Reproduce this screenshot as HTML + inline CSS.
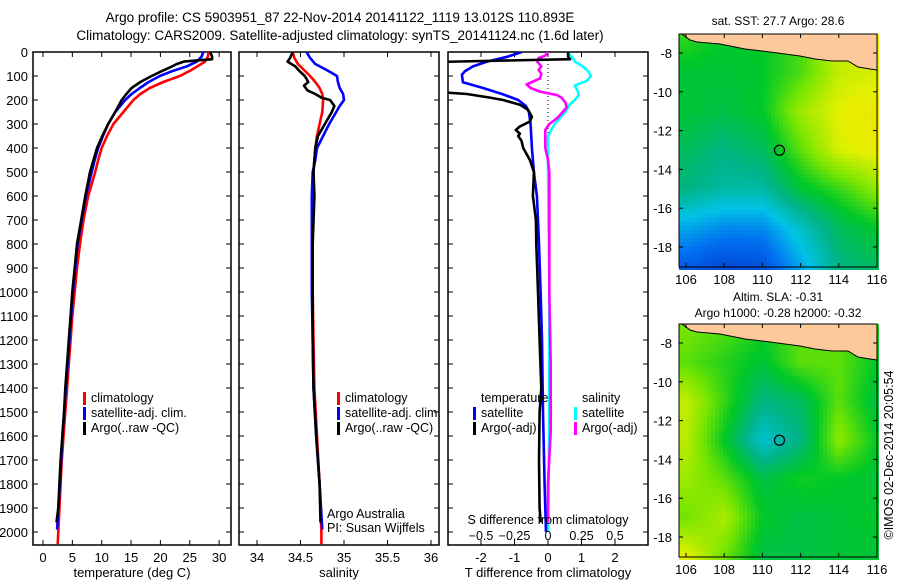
<!DOCTYPE html>
<html><head><meta charset="utf-8"><style>
body{margin:0;background:#fff}
svg{display:block;font-family:"Liberation Sans",sans-serif}
text{fill:#000}
</style></head><body>
<svg id="c" width="900" height="580"></svg>
<script>
// ---------- data ----------
const depthClimT=[0,20,40,60,80,100,125,150,175,200,250,300,350,400,450,500,600,700,800,900,1000,1100,1200,1300,1400,1500,1600,1700,1800,1900,2000,2050];
const climT=[28.2,28.1,27.6,26.3,24.9,23.3,20.5,18.2,16.6,15.4,13.7,12.0,10.9,10.0,9.4,8.9,7.7,6.9,6.3,5.8,5.4,5.0,4.7,4.4,4.1,3.8,3.5,3.2,3.0,2.8,2.6,2.5];
const depthSatT=[0,20,40,60,80,100,125,150,175,200,250,300,350,400,450,500,600,700,800,900,1000,1100,1200,1300,1400,1500,1600,1700,1800,1900,1990];
const satT=[27.3,27.0,26.2,24.5,22.0,19.9,18.0,16.5,15.1,14.0,12.3,11.1,10.2,9.4,8.8,8.3,7.3,6.6,5.9,5.5,5.1,4.8,4.5,4.2,3.9,3.6,3.3,3.1,2.9,2.6,2.4];
const depthArgoT=[0,20,30,40,50,60,80,100,125,150,175,200,250,300,350,400,450,500,600,700,800,900,1000,1100,1200,1300,1400,1500,1600,1700,1800,1900,1960];
const argoT=[28.5,28.8,28.8,24.0,22.8,22.0,20.2,18.5,16.6,15.1,14.2,13.4,12.3,11.1,10.1,9.2,8.6,8.0,7.2,6.5,5.8,5.4,5.0,4.7,4.4,4.1,3.8,3.6,3.3,3.0,2.8,2.6,2.3];

const depthClimS=[0,25,50,75,100,125,150,175,200,250,300,350,400,500,600,800,1000,1200,1400,1600,1800,2000,2050];
const climS=[34.41,34.43,34.47,34.54,34.61,34.67,34.72,34.75,34.76,34.75,34.72,34.69,34.67,34.65,34.64,34.64,34.64,34.65,34.66,34.69,34.72,34.74,34.74];
const depthSatS=[0,25,50,75,100,125,150,175,200,225,250,300,350,400,450,500,600,800,1000,1200,1400,1600,1800,1990];
const satS=[34.57,34.61,34.67,34.80,34.92,34.93,34.95,34.99,35.00,34.95,34.91,34.83,34.76,34.69,34.67,34.64,34.63,34.63,34.63,34.64,34.65,34.68,34.72,34.75];
const depthArgoS=[0,25,40,60,80,100,125,140,160,175,190,200,225,250,300,350,400,500,600,800,1000,1200,1400,1600,1800,1960];
const argoS=[34.41,34.38,34.35,34.44,34.49,34.55,34.59,34.54,34.58,34.67,34.74,34.84,34.89,34.86,34.78,34.70,34.67,34.65,34.66,34.64,34.64,34.64,34.65,34.68,34.72,34.73];

const depthDT=[0,20,40,60,80,95,126,150,175,200,225,250,300,400,500,600,700,800,1000,1200,1500,1800,2000];
const satDT=[-0.78,-1.22,-1.82,-2.24,-2.48,-2.57,-2.54,-1.94,-1.37,-0.89,-0.66,-0.57,-0.52,-0.48,-0.42,-0.33,-0.30,-0.27,-0.22,-0.18,-0.15,-0.10,-0.06];
const depthArgoDT=[0,20,30,42,100,169,175,190,200,220,240,270,290,310,325,340,350,370,400,450,500,600,700,800,1000,1200,1400,1500,1700,1900,1960];
const argoDT=[0.6,0.6,0.66,-3.5,-3.5,-3.0,-2.42,-1.73,-1.34,-0.84,-0.6,-0.48,-0.54,-0.84,-0.96,-0.84,-0.89,-0.79,-0.74,-0.54,-0.42,-0.45,-0.36,-0.35,-0.3,-0.25,-0.2,-0.25,-0.27,-0.25,-0.22];
const depthSatDS=[0,20,40,60,80,100,120,140,160,180,200,220,250,275,300,320,350,400,500,1000,1500,2000];
const satDS=[0.14,0.18,0.20,0.26,0.30,0.32,0.29,0.20,0.22,0.23,0.20,0.16,0.13,0.09,0.05,0.03,0.0,0.0,0.0,0.01,0.01,0.0];
const depthArgoDS=[0,15,25,40,60,75,90,110,125,135,150,165,180,190,210,230,250,275,300,325,350,400,450,500,600,800,1000,1300,1580,1800,1960];
const argoDS=[0.0,-0.02,-0.07,-0.08,-0.05,-0.07,-0.05,-0.06,-0.12,-0.16,-0.13,-0.06,0.07,0.10,0.13,0.14,0.11,0.07,0.01,-0.02,-0.02,-0.02,0.0,0.01,0.01,0.01,0.01,0.02,0.02,0.0,0.0];

const depthTicks=[0,100,200,300,400,500,600,700,800,900,1000,1100,1200,1300,1400,1500,1600,1700,1800,1900,2000];
const tempTicks=[0,5,10,15,20,25,30];
const salTicks=[34,34.5,35,35.5,36];
const dtTicks=[-2,-1,0,1,2];
const dsTicks=[-0.5,-0.25,0,0.25,0.5];
const lonTicks=[106,108,110,112,114,116];
const latTicks=[-8,-10,-12,-14,-16,-18];

// coarse map fields (rows lat -7..-19 step 2, cols lon 106..116 step 2)
const sstGrid=[[0.68,0.62,0.62,0.7,0.88,0.92],[0.6,0.6,0.62,0.7,0.85,0.88],[0.6,0.58,0.62,0.8,0.9,0.94],[0.55,0.5,0.55,0.72,0.88,0.92],[0.5,0.45,0.45,0.6,0.68,0.78],[0.3,0.25,0.25,0.4,0.55,0.62],[0.15,0.1,0.12,0.3,0.5,0.55]];
const slaGrid=[[0.75,0.72,0.65,0.72,0.72,0.65],[0.72,0.66,0.6,0.72,0.72,0.62],[0.85,0.68,0.5,0.55,0.72,0.58],[0.84,0.62,0.38,0.5,0.78,0.62],[0.8,0.72,0.58,0.64,0.62,0.6],[0.74,0.82,0.62,0.58,0.6,0.62],[0.9,0.74,0.58,0.58,0.6,0.6]];
const argoLon=110.893, argoLat=-13.012;

// ---------- helpers ----------
const NS="http://www.w3.org/2000/svg";
const svg=document.getElementById('c');
function el(tag,attrs,parent){const e=document.createElementNS(NS,tag);for(const k in attrs)e.setAttribute(k,attrs[k]);(parent||svg).appendChild(e);return e;}
function txt(x,y,s,anchor,size,parent){const t=el('text',{x:x,y:y,'text-anchor':anchor||'start','font-size':size||12},parent);t.textContent=s;return t;}
const TOP=52, BOT=545;
const yD=d=>52+0.24*d;

function panel(name,x0,x1,xs,ticks,fmt,title,clipId){
  const g=el('g',{});
  
  
  el('rect',{x:x0,y:TOP,width:x1-x0,height:BOT-TOP,fill:'none',stroke:'#000','stroke-width':1.5},g);
  const cp=el('clipPath',{id:clipId},g);
  el('rect',{x:x0,y:TOP,width:x1-x0,height:BOT-TOP},cp);
  depthTicks.forEach(d=>{
    el('line',{x1:x0,x2:x0+5,y1:yD(d),y2:yD(d),stroke:'#000'},g);
    el('line',{x1:x1,x2:x1-5,y1:yD(d),y2:yD(d),stroke:'#000'},g);
  });
  ticks.forEach(v=>{
    const x=xs(v);
    el('line',{x1:x,x2:x,y1:BOT,y2:BOT-5,stroke:'#000'},g);
    el('line',{x1:x,x2:x,y1:TOP,y2:TOP+5,stroke:'#000'},g);
    txt(x,562,fmt(v),'middle',13,g);
  });
  const t=txt((x0+x1)/2,577,title,'middle',13,g);
  
  
  return g;
}
function series(name,depths,vals,xs,color,clipId){
  const pts=depths.map((d,i)=>xs(vals[i]).toFixed(1)+','+yD(d).toFixed(1)).join(' ');
  const p=el('polyline',{points:pts,fill:'none',stroke:color,'stroke-width':2.6,'stroke-linejoin':'round','clip-path':'url(#'+clipId+')'});
  
  
}
function legend(x,y,items){
  items.forEach((it,i)=>{
    el('rect',{x:x,y:y+i*15-10,width:3,height:13,fill:it[1]});
    const t=txt(x+8,y+i*15,it[0],'start',12.5);
    
    
  });
}

// titles
let t1=txt(340,22,'Argo profile: CS 5903951_87 22-Nov-2014 20141122_1119 13.012S 110.893E','middle',13.5);


let t2=txt(340,40,'Climatology: CARS2009. Satellite-adjusted climatology: synTS_20141124.nc (1.6d later)','middle',13.5);



// depth labels
depthTicks.forEach(d=>{
  const t=txt(28,yD(d)+5,String(d),'end',13);
  
  
});

// panel 1 temperature
const xT=v=>43+5.87*v;
panel('temperature-panel',33,231,xT,tempTicks,String,'temperature (deg C)','clipT');
series('climatology-temperature',depthClimT,climT,xT,'#f00','clipT');
series('satellite-temperature',depthSatT,satT,xT,'#00f','clipT');
series('argo-temperature',depthArgoT,argoT,xT,'#000','clipT');
legend(83,402,[['climatology','#f00'],['satellite-adj. clim.','#00f'],['Argo(..raw -QC)','#000']]);

// panel 2 salinity
const xS=v=>257+87*(v-34);
panel('salinity-panel',239,439,xS,salTicks,String,'salinity','clipS');
series('climatology-salinity',depthClimS,climS,xS,'#f00','clipS');
series('satellite-salinity',depthSatS,satS,xS,'#00f','clipS');
series('argo-salinity',depthArgoS,argoS,xS,'#000','clipS');
legend(337,402,[['climatology','#f00'],['satellite-adj. clim.','#00f'],['Argo(..raw -QC)','#000']]);
txt(327,518,'Argo Australia','start',12.5);
txt(327,532,'PI: Susan Wijffels','start',12.5);

// panel 3 differences
const xDT=v=>548+33.5*v;
const xDS=v=>548+134*v;
panel('difference-panel',448,648,xDT,dtTicks,String,'T difference from climatology','clipD');
el('line',{x1:548,x2:548,y1:TOP,y2:yD(340),stroke:'#000','stroke-dasharray':'1,3'});
series('satellite-salinity-diff',depthSatDS,satDS,xDS,'#0ff','clipD');
series('argo-salinity-diff',depthArgoDS,argoDS,xDS,'#f0f','clipD');
series('satellite-temperature-diff',depthDT,satDT,xDT,'#00f','clipD');
series('argo-temperature-diff',depthArgoDT,argoDT,xDT,'#000','clipD');
txt(481,402,'temperature','start',12.5);
legend(473,417,[['satellite','#00f'],['Argo(-adj)','#000']]);
txt(582,402,'salinity','start',12.5);
legend(574,417,[['satellite','#0ff'],['Argo(-adj)','#f0f']]);
txt(548,524,'S difference from climatology','middle',12.5);
dsTicks.forEach(v=>txt(xDS(v),540,String(v).replace('-','\u2212'),'middle',12.5));

// ---------- maps ----------
const stops=[[0,[0,40,190]],[0.2,[0,110,240]],[0.35,[0,195,230]],[0.5,[0,180,130]],[0.62,[0,200,40]],[0.75,[120,230,0]],[0.9,[230,240,0]],[1,[250,215,0]]];
function cmap(v){v=Math.max(0,Math.min(1,v));for(let i=1;i<stops.length;i++){if(v<=stops[i][0]){const a=stops[i-1],b=stops[i],f=(v-a[0])/(b[0]-a[0]);return 'rgb('+a[1].map((c,k)=>Math.round(c+(b[1][k]-c)*f)).join(',')+')';}}return 'rgb(250,215,0)';}
function sample(grid,lon,lat){
  let c=(lon-106)/2, r=(-7-lat)/2;
  c=Math.max(0,Math.min(4.999,c)); r=Math.max(0,Math.min(5.999,r));
  const c0=Math.floor(c),r0=Math.floor(r),fc=c-c0,fr=r-r0;
  return grid[r0][c0]*(1-fc)*(1-fr)+grid[r0][c0+1]*fc*(1-fr)+grid[r0+1][c0]*(1-fc)*fr+grid[r0+1][c0+1]*fc*fr;
}
function map(name,oy,grid,cell,title1,title2){
  const g=el('g',{});
  
  
  const L=679,R=877,T=34+oy,B=267+oy;
  const xL=lon=>686+19.1*(lon-106);
  const yL=lat=>53+oy+19.4*(-8-lat);
  for(let y=T;y<B;y+=cell)for(let x=L;x<R;x+=cell){
    const lon=106+(x+cell/2-686)/19.1, lat=-8-(y+cell/2-53-oy)/19.4;
    el('rect',{x:x,y:y,width:cell,height:cell,fill:cmap(sample(grid,lon,lat))},g);
  }
  const land=[[679,T],[682,T],[690,T+6],[697,T+8],[720,T+10],[745,T+15],[770,T+18],[800,T+22],[815,T+25],[832,T+27],[848,T+27],[858,T+33],[870,T+35],[877,T+36],[877,T]];
  el('polygon',{points:land.map(p=>p.join(',')).join(' '),fill:'#fdc89a',stroke:'#000','stroke-width':1},g);
  el('rect',{x:L,y:T,width:R-L,height:B-T,fill:'none',stroke:'#000'},g);
  lonTicks.forEach(v=>{const x=xL(v);el('line',{x1:x,x2:x,y1:B,y2:B-4,stroke:'#000'},g);el('line',{x1:x,x2:x,y1:T,y2:T+4,stroke:'#000'},g);txt(x,B+17,String(v),'middle',13,g);});
  latTicks.forEach(v=>{const y=yL(v);el('line',{x1:L,x2:L+4,y1:y,y2:y,stroke:'#000'},g);el('line',{x1:R,x2:R-4,y1:y,y2:y,stroke:'#000'},g);txt(672,y+5,String(v),'end',13,g);});
  const m=el('circle',{cx:xL(argoLon),cy:yL(argoLat),r:5,fill:'none',stroke:'#000','stroke-width':1.2},g);
  
  
  if(title2){txt(778,oy+11,title1,'middle',12,g);txt(778,oy+27,title2,'middle',12,g);}
  else txt(778,oy+25,title1,'middle',12,g);
}
map('sst-map',0,sstGrid,4,'sat. SST: 27.7 Argo: 28.6');
map('sla-map',290,slaGrid,4,'Altim. SLA: -0.31','Argo h1000: -0.28 h2000: -0.32');
const cr=txt(0,0,'\u00A9IMOS 02-Dec-2014 20:05:54','middle',12.5);
cr.setAttribute('transform','translate(893,455) rotate(-90)');


</script>
</body></html>
